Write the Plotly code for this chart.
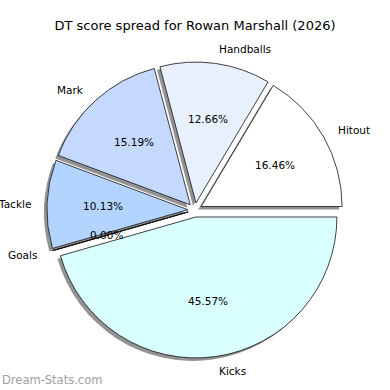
import math
import plotly.graph_objects as go

# ---- data ----
labels = ["Hitout", "Handballs", "Mark", "Tackle", "Goals", "Kicks"]
values = [13, 10, 12, 8, 0, 36]
colors = ["#ffffff", "#e8f0fe", "#c5d9fe", "#b3d4ff", "#ccccff", "#d9ffff"]
title_text = "DT score spread for Rowan Marshall (2026)"
watermark = "Dream-Stats.com"

# ---- layout geometry ----
W = H = 390
ML, MR, MT, MB = 40, 40, 55, 25
PW = W - ML - MR
PH = H - MT - MB
pull = 0.05
pie_px = 296                 # pie box (px)
half = pie_px / PW / 2
dom = [0.5 - half, 0.5 + half]
shadow_dx, shadow_dy = -3 / PW, -3 / PH
r_paper = (2 * half) / (2 + 2 * pull)

total = sum(values)
rotation = 90 - 360 * values[0] / total

FONT = "DejaVu Sans"

fig = go.Figure()
# shadow
fig.add_trace(go.Pie(
    labels=labels, values=values, sort=False, direction="counterclockwise",
    rotation=rotation, pull=[pull] * len(values),
    marker=dict(colors=["#939393"] * len(values), line=dict(width=0)),
    textinfo="none", hoverinfo="skip", showlegend=False,
    domain=dict(x=[dom[0] + shadow_dx, dom[1] + shadow_dx], y=[dom[0] + shadow_dy, dom[1] + shadow_dy]),
))
# main pie
fig.add_trace(go.Pie(
    labels=labels, values=values, sort=False, direction="counterclockwise",
    rotation=rotation, pull=[pull] * len(values),
    marker=dict(colors=colors, line=dict(color="#111111", width=0.8)),
    textinfo="none", showlegend=False,
    domain=dict(x=dom, y=dom),
))

# text placement (matplotlib-style: labels at 1.1 r, percents at 0.6 r, both offset by explode)
annotations = []
shapes = []
cum = 0
for lab, v in zip(labels, values):
    a0 = 360 * cum / total
    a1 = 360 * (cum + v) / total
    cum += v
    th = math.radians((a0 + a1) / 2)
    c, s = math.cos(th), math.sin(th)
    kx = 0.5 + (1.1 + pull) * r_paper * c
    ky = 0.5 + (1.1 + pull) * r_paper * s
    annotations.append(dict(
        x=kx, y=ky, xref="paper", yref="paper", text=lab, showarrow=False,
        xanchor="left" if c > 0 else "right", yanchor="middle",
        font=dict(family=FONT, size=10.5, color="#000"),
    ))
    px_ = 0.5 + (0.6 + pull) * r_paper * c
    py_ = 0.5 + (0.6 + pull) * r_paper * s
    annotations.append(dict(
        x=px_, y=py_, xref="paper", yref="paper", text=f"{100 * v / total:.2f}%",
        showarrow=False, xanchor="center", yanchor="middle",
        font=dict(family=FONT, size=10.5, color="#000"),
    ))
    if v == 0:
        # a zero-size wedge still shows its edge line
        shapes.append(dict(
            type="line", xref="paper", yref="paper",
            x0=0.5 + pull * r_paper * c, y0=0.5 + pull * r_paper * s,
            x1=0.5 + (1 + pull) * r_paper * c, y1=0.5 + (1 + pull) * r_paper * s,
            line=dict(color="#111111", width=0.9), layer="above",
        ))

# watermark in the bottom-left corner
annotations.append(dict(
    x=-ML / PW, y=-(380 - (H - MB)) / PH, xref="paper", yref="paper", text=watermark,
    showarrow=False, xanchor="left", yanchor="middle",
    font=dict(family=FONT, size=11.5, color="#a0a0a0"),
))

fig.update_layout(
    width=W, height=H,
    margin=dict(l=ML, r=MR, t=MT, b=MB),
    paper_bgcolor="white", plot_bgcolor="white",
    title=dict(text=title_text, x=0.5, xanchor="center", y=1 - 25 / H, yanchor="middle",
               font=dict(family=FONT, size=13, color="#000")),
    annotations=annotations,
    shapes=shapes,
)
fig.write_html("out.html", config={"displayModeBar": False},
               post_script="document.body.style.margin='0';")
